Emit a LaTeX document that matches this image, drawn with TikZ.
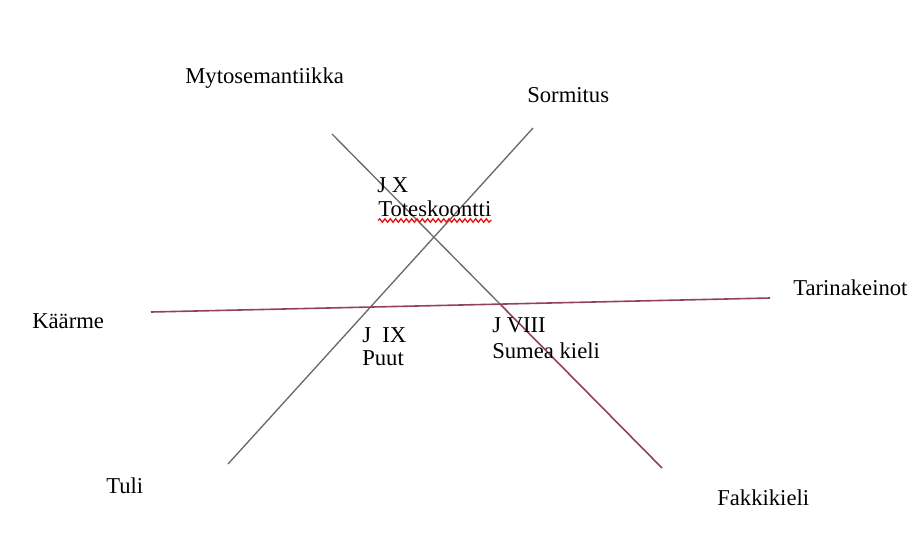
\documentclass[tikz,border=0pt]{standalone}
\usepackage{fontspec}
\setmainfont{Liberation Serif}
\usetikzlibrary{calc,decorations.pathmorphing}
\definecolor{linegray}{HTML}{6A6A6A}
\definecolor{linered}{HTML}{94405E}
\definecolor{wavered}{HTML}{E01818}
\tikzset{
  lbl/.style={anchor=base west, inner sep=0pt, font=\fontsize{17}{20}\selectfont},
  grayline/.style={draw=linegray, line width=1pt},
  redline/.style={draw=linered, line width=1.2pt},
  wavy/.style={draw=wavered, line width=1pt, decorate,
    decoration={snake, amplitude=1.3pt, segment length=4pt}}
}
\begin{document}
\begin{tikzpicture}[x=0.75pt,y=-0.75pt]
\useasboundingbox[fill=white] (0,0) rectangle (912,540);
% end points
\coordinate (aTop) at (332,134);
\coordinate (aBot) at (662,468);
\coordinate (bTop) at (533,128);
\coordinate (bBot) at (228,464);
\coordinate (cL) at (151,312);
\coordinate (cR) at (770,298);
\coordinate (aC) at ($(aTop)!0.509!(aBot)$);
% lines
\draw[grayline] (bTop) -- (bBot);
\draw[grayline] (aTop) -- (aC);
\draw[redline] (aC) -- (aBot);
\draw[redline] (cL) -- (cR);
% labels
\node[lbl] (myto) at (185,83) {Mytosemantiikka};
\node[lbl] (sorm) at (527,102) {Sormitus};
\node[lbl] (jx) at (377,192) {J X};
\node[lbl] (tote) at (378,216) {Toteskoontti};
\node[lbl] (tari) at (793,295) {Tarinakeinot};
\node[lbl] (kaar) at (32,328) {Käärme};
\node[lbl] (jix) at (362,342) {J\ \ IX};
\node[lbl] (puut) at (362,365) {Puut};
\node[lbl] (jviii) at (492,332) {J VIII};
\node[lbl] (sumea) at (492,358) {Sumea kieli};
\node[lbl] (tuli) at (106,493) {Tuli};
\node[lbl] (fakk) at (717,505) {Fakkikieli};
% spelling underline
\draw[wavy] ($(tote.base west)+(0,4.5)$) -- ($(tote.base east)+(0,4.5)$);
\end{tikzpicture}
\end{document}
